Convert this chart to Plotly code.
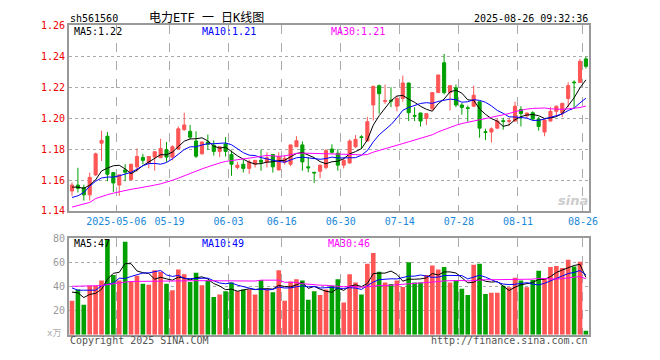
import plotly.graph_objects as go
import pandas as pd

# ---------------- data ----------------
tick_idx = [8, 17, 27, 36, 46, 56, 66, 76, 87]
tick_labels = ["2025-05-06", "05-19", "06-03", "06-16", "06-30", "07-14", "07-28", "08-11", "08-26"]

opens = [1.1529, 1.1567, 1.1550, 1.1504, 1.1633, 1.1838, 1.1883, 1.1648, 1.1567, 1.1665,
         1.1602, 1.1685, 1.1746, 1.1710, 1.1748, 1.1744, 1.1796, 1.1748, 1.1800, 1.1925,
         1.1915, 1.1852, 1.1769, 1.1846, 1.1825, 1.1785, 1.1833, 1.1765, 1.1681, 1.1702,
         1.1675, 1.1702, 1.1727, 1.1715, 1.1765, 1.1665, 1.1715, 1.1702, 1.1815, 1.1827,
         1.1685, 1.1650, 1.1656, 1.1680, 1.1800, 1.1773, 1.1696, 1.1710, 1.1815, 1.1879,
         1.1852, 1.2085, 1.2210, 1.2108, 1.2115, 1.2077, 1.2127, 1.2227, 1.2017, 1.2033,
         1.1998, 1.2060, 1.2165, 1.2358, 1.2165, 1.2196, 1.2085, 1.2067, 1.2077, 1.2106,
         1.1912, 1.1910, 1.1935, 1.1983, 1.1979, 1.1981, 1.2056, 1.2015, 1.2035, 1.1994,
         1.1910, 1.1981, 1.2044, 1.2033, 1.2127, 1.2233, 1.2231, 1.2383]
highs = [1.1585, 1.1679, 1.1570, 1.1648, 1.1777, 1.1919, 1.1910, 1.1650, 1.1635, 1.1702,
         1.1704, 1.1804, 1.1769, 1.1754, 1.1785, 1.1867, 1.1846, 1.1825, 1.1946, 1.2035,
         1.1956, 1.1915, 1.1848, 1.1894, 1.1856, 1.1817, 1.1877, 1.1790, 1.1717, 1.1731,
         1.1731, 1.1729, 1.1796, 1.1779, 1.1767, 1.1779, 1.1760, 1.1829, 1.1883, 1.1850,
         1.1748, 1.1652, 1.1698, 1.1800, 1.1831, 1.1800, 1.1744, 1.1863, 1.1890, 1.1890,
         1.2008, 1.2208, 1.2217, 1.2217, 1.2200, 1.2144, 1.2275, 1.2229, 1.2071, 1.2035,
         1.2031, 1.2167, 1.2281, 1.2415, 1.2212, 1.2217, 1.2098, 1.2081, 1.2210, 1.2108,
         1.1931, 1.1940, 1.1998, 1.2002, 1.2002, 1.2106, 1.2077, 1.2035, 1.2044, 1.2008,
         1.1990, 1.2071, 1.2081, 1.2098, 1.2231, 1.2244, 1.2383, 1.2398]
lows = [1.1498, 1.1519, 1.1467, 1.1467, 1.1627, 1.1723, 1.1592, 1.1523, 1.1498, 1.1592,
        1.1598, 1.1654, 1.1702, 1.1675, 1.1660, 1.1742, 1.1717, 1.1727, 1.1798, 1.1919,
        1.1863, 1.1742, 1.1765, 1.1794, 1.1758, 1.1748, 1.1752, 1.1627, 1.1669, 1.1648,
        1.1640, 1.1681, 1.1660, 1.1681, 1.1648, 1.1663, 1.1700, 1.1690, 1.1813, 1.1660,
        1.1650, 1.1581, 1.1612, 1.1670, 1.1769, 1.1660, 1.1675, 1.1706, 1.1806, 1.1800,
        1.1850, 1.1985, 1.2029, 1.2092, 1.2071, 1.2044, 1.2106, 1.1981, 1.1981, 1.1946,
        1.1956, 1.2050, 1.2163, 1.2154, 1.2050, 1.2071, 1.2023, 1.1977, 1.2075, 1.1873,
        1.1858, 1.1842, 1.1933, 1.1925, 1.1952, 1.1977, 1.1946, 1.2002, 1.1988, 1.1919,
        1.1883, 1.1979, 1.2008, 1.2008, 1.2071, 1.2060, 1.2229, 1.2321]
closes = [1.1567, 1.1546, 1.1504, 1.1617, 1.1769, 1.1856, 1.1637, 1.1581, 1.1633, 1.1650,
          1.1702, 1.1752, 1.1727, 1.1752, 1.1783, 1.1804, 1.1748, 1.1815, 1.1931, 1.1956,
          1.1877, 1.1754, 1.1846, 1.1831, 1.1785, 1.1815, 1.1785, 1.1702, 1.1696, 1.1675,
          1.1717, 1.1727, 1.1715, 1.1744, 1.1685, 1.1752, 1.1740, 1.1827, 1.1854, 1.1717,
          1.1679, 1.1646, 1.1696, 1.1790, 1.1779, 1.1696, 1.1727, 1.1852, 1.1863, 1.1875,
          1.1977, 1.2206, 1.2158, 1.2113, 1.2110, 1.2127, 1.2227, 1.2035, 1.2013, 1.1981,
          1.2029, 1.2165, 1.2279, 1.2165, 1.2210, 1.2085, 1.2069, 1.2063, 1.2148, 1.1935,
          1.1908, 1.1931, 1.1981, 1.1979, 1.1983, 1.2077, 1.2029, 1.2033, 1.1994, 1.1946,
          1.1988, 1.2044, 1.2077, 1.2096, 1.2210, 1.2229, 1.2367, 1.2335]
volumes = [28.0, 37.3, 24.8, 40.5, 40.5, 44.8, 78.7, 49.3, 44.8, 76.8,
           44.0, 48.8, 42.1, 41.3, 53.3, 52.0, 42.1, 36.8, 53.9, 49.9,
           43.5, 51.2, 40.8, 44.8, 31.2, 33.3, 36.0, 43.2, 36.0, 37.3,
           37.3, 33.3, 45.3, 37.3, 35.2, 53.3, 28.0, 44.0, 45.9, 44.8,
           28.8, 36.0, 32.8, 37.3, 40.5, 45.9, 26.7, 49.9, 43.2, 33.3,
           58.7, 67.5, 52.0, 43.2, 41.9, 44.8, 39.5, 60.0, 43.2, 43.2,
           49.3, 57.3, 53.9, 56.0, 43.2, 44.8, 37.9, 32.8, 57.9, 58.7,
           33.6, 34.7, 34.7, 40.5, 39.2, 47.2, 44.8, 39.2, 45.3, 52.8,
           46.7, 56.0, 56.8, 55.2, 61.9, 56.5, 60.3, 3.2]

ma5_head = [1.1554, 1.1554, 1.1546, 1.1567]
ma10_head = [1.1487, 1.1498, 1.1519, 1.1560, 1.1592, 1.1613, 1.1619, 1.1619, 1.1627]
ma30_head = [1.1425, 1.1435, 1.1445, 1.1455, 1.1480, 1.1495, 1.1505, 1.1515, 1.1525, 1.1530,
             1.1540, 1.1546, 1.1552, 1.1560, 1.1567, 1.1575, 1.1585, 1.1598, 1.1612, 1.1628,
             1.1644, 1.1658, 1.1672, 1.1685, 1.1700, 1.1710, 1.1720, 1.1727, 1.1732]
vma5_head = [35.2, 34.7, 30.7, 33.3]
vma10_head = [38.7, 36.8, 36.8, 36.8, 36.8, 40.5, 41.3, 42.7, 46.7]
vma30_head = [40.0, 40.0, 40.2, 40.3, 40.5, 40.7, 41.5, 42.0, 42.5, 43.5,
              44.0, 44.0, 44.3, 44.3, 44.5, 44.5, 44.5, 44.5, 44.6, 44.6,
              44.6, 44.7, 44.7, 44.7, 44.8, 44.8, 44.8, 44.8, 44.8]

legend_price = ["MA5:1.22", "MA10:1.21", "MA30:1.21"]
legend_vol = ["MA5:47", "MA10:49", "MA30:46"]


def moving_avg(values, n, head):
    s = pd.Series(values).rolling(n).mean().tolist()
    return list(head) + s[len(head):]


x = list(range(len(closes)))
RED = "#ff5555"
GREEN = "#00a000"
MONO = "DejaVu Sans Mono"

fig = go.Figure()

fig.add_trace(go.Candlestick(
    x=x, open=opens, high=highs, low=lows, close=closes,
    increasing=dict(fillcolor=RED, line=dict(color=RED, width=1)),
    decreasing=dict(fillcolor=GREEN, line=dict(color=GREEN, width=1)),
    whiskerwidth=0, xaxis="x", yaxis="y", showlegend=False, hoverinfo="skip"))

for n, head, col in [(5, ma5_head, "#000000"), (10, ma10_head, "#0000ff"), (30, ma30_head, "#ff00ff")]:
    fig.add_trace(go.Scatter(x=x, y=moving_avg(closes, n, head), mode="lines",
                             line=dict(color=col, width=1), xaxis="x", yaxis="y",
                             showlegend=False, hoverinfo="skip"))

bar_colors = [RED if c >= o else GREEN for o, c in zip(opens, closes)]
fig.add_trace(go.Bar(x=x, y=volumes, marker=dict(color=bar_colors, line=dict(width=0)),
                     xaxis="x2", yaxis="y2", showlegend=False, hoverinfo="skip"))

for n, head, col in [(5, vma5_head, "#000000"), (10, vma10_head, "#0000ff"), (30, vma30_head, "#ff00ff")]:
    fig.add_trace(go.Scatter(x=x, y=moving_avg(volumes, n, head), mode="lines",
                             line=dict(color=col, width=1), xaxis="x2", yaxis="y2",
                             showlegend=False, hoverinfo="skip"))

W, H = 660, 360
L, R = 70, 597


def px(v):
    return v / W


def py(v):
    return 1 - v / H


grid_x = [i - 0.5 for i in tick_idx]
axis_common = dict(showline=True, mirror=True, linecolor="#999999", linewidth=2,
                   zeroline=False, fixedrange=True)

fig.update_layout(
    width=W, height=H, margin=dict(l=0, r=0, t=0, b=0),
    paper_bgcolor="white", plot_bgcolor="white",
    boxgap=0.25, bargap=0.22,
    xaxis=dict(domain=[px(L), px(R)], range=[-0.5, len(x) - 0.5], anchor="y",
               tickmode="array", tickvals=grid_x, ticktext=tick_labels,
               tickfont=dict(family=MONO, size=10, color="#1a88d8"),
               ticks="", showgrid=True, gridcolor="#aaaaaa", griddash="dash", gridwidth=1,
               rangeslider=dict(visible=False), **axis_common),
    yaxis=dict(domain=[py(212), py(20)], range=[1.14, 1.26], anchor="x",
               tickmode="array", tickvals=[1.14, 1.16, 1.18, 1.20, 1.22, 1.24, 1.26],
               ticktext=["1.14", "1.16", "1.18", "1.20", "1.22", "1.24", "1.26"],
               tickfont=dict(family=MONO, size=10, color="#ee0000"), ticks="",
               showgrid=True, gridcolor="#aaaaaa", griddash="dot", gridwidth=1, **axis_common),
    xaxis2=dict(domain=[px(L), px(R)], range=[-0.5, len(x) - 0.5], anchor="y2",
                tickmode="array", tickvals=grid_x, showticklabels=False, ticks="",
                showgrid=True, gridcolor="#aaaaaa", griddash="dash", gridwidth=1, **axis_common),
    yaxis2=dict(domain=[py(340), py(240)], range=[0, 80], anchor="x2",
                tickmode="array", tickvals=[20, 40, 60, 80], ticktext=["20", "40", "60", "80"],
                tickfont=dict(family=MONO, size=10, color="#999999"), ticks="",
                showgrid=True, gridcolor="#aaaaaa", griddash="dot", gridwidth=1, **axis_common),
)


def note(text, xpix, ypix, color="#000000", anchor="left", size=10, family=MONO):
    fig.add_annotation(text=text, x=px(xpix), y=py(ypix), xref="paper", yref="paper",
                       xanchor=anchor, yanchor="middle", showarrow=False,
                       font=dict(family=family, size=size, color=color))


note("sh561560", 69, 13)
note("电力ETF 一 日K线图", 209, 12, anchor="center", size=12,
     family="DejaVu Sans Mono, Noto Sans CJK SC")
note("2025-08-26 09:32:36", 598, 13, anchor="right")

for txt, xp, col in zip(legend_price, [73, 203, 334], ["#000000", "#0000ff", "#ff00ff"]):
    note(txt, xp, 26, color=col)
for txt, xp, col in zip(legend_vol, [73, 203, 330], ["#000000", "#0000ff", "#ff00ff"]):
    note(txt, xp, 246, color=col)

note("x万", 64, 338, color="#aaaaaa", anchor="right", size=9,
     family="DejaVu Sans Mono, Noto Sans CJK SC")
note("Copyright 2025 SINA.COM", 69, 346, color="#555555")
note("http://finance.sina.com.cn", 598, 346, color="#555555", anchor="right")
note("<b><i>sina</i></b>", 581, 201, color="#cccccc", anchor="center", size=13,
     family="DejaVu Sans")

fig.write_html("out.html",
               config={"displayModeBar": False, "staticPlot": True},
               post_script="document.body.style.margin='0';document.body.style.padding='0';"
                           "document.documentElement.style.overflow='hidden';")
